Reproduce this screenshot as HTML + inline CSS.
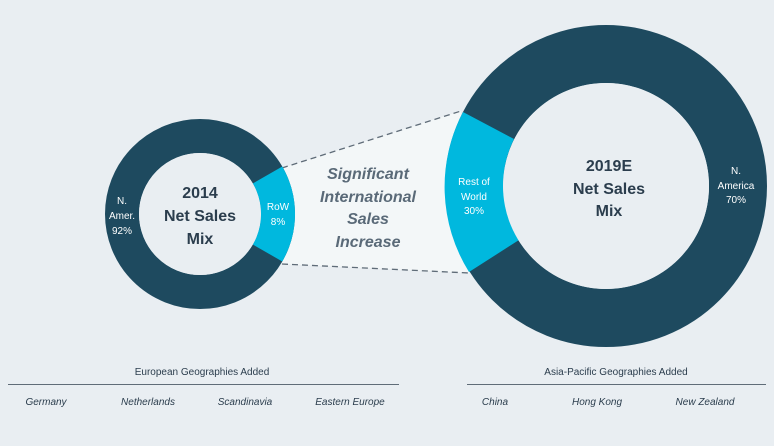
<!DOCTYPE html>
<html><head><meta charset="utf-8"><style>
body{margin:0;background:#e9eef2;}
svg{display:block;font-family:"Liberation Sans",sans-serif;}
</style></head><body>
<svg width="774" height="446" viewBox="0 0 774 446">
<rect width="774" height="446" fill="#e9eef2"/>
<polygon points="282,168 461,111 469,273 282,264" fill="#f3f7f8"/>
<line x1="282" y1="168" x2="461" y2="111" stroke="#5f6c78" stroke-width="1.3" stroke-dasharray="6,4"/>
<line x1="282" y1="264" x2="469" y2="273" stroke="#5f6c78" stroke-width="1.3" stroke-dasharray="6,4"/>
<!-- small donut -->
<circle cx="200" cy="214" r="78" fill="none" stroke="#1e4a5f" stroke-width="34"/>
<path d="M282.3,166.5 A95,95 0 0 1 282.3,261.5 L252.8,244.5 A61,61 0 0 0 252.8,183.5 Z" fill="#00b8de"/>
<circle cx="200" cy="214" r="61" fill="#e9eef2"/>
<!-- large donut -->
<circle cx="606" cy="186" r="132" fill="none" stroke="#1e4a5f" stroke-width="58"/>
<path d="M463,112 A161,161 0 0 0 469,272 L519,240 A103,103 0 0 1 514,139 Z" fill="#00b8de"/>
<circle cx="606" cy="186" r="103" fill="#e9eef2"/>
<g fill="#2b3d4d" font-weight="bold" font-size="16" text-anchor="middle">
<text x="200" y="198">2014</text><text x="200" y="221">Net Sales</text><text x="200" y="244">Mix</text>
<text x="609" y="171">2019E</text><text x="609" y="194">Net Sales</text><text x="609" y="216">Mix</text>
</g>
<g fill="#5a6a78" font-weight="bold" font-style="italic" font-size="16" text-anchor="middle">
<text x="368" y="179">Significant</text><text x="368" y="202">International</text><text x="368" y="224">Sales</text><text x="368" y="247">Increase</text>
</g>
<g fill="#fff" font-size="10" text-anchor="middle">
<text x="122" y="204">N.</text><text x="122" y="219">Amer.</text><text x="122" y="234">92%</text>
<text x="278" y="210">RoW</text><text x="278" y="225">8%</text>
<text x="474" y="185">Rest of</text><text x="474" y="200">World</text><text x="474" y="214">30%</text>
<text x="736" y="174">N.</text><text x="736" y="189">America</text><text x="736" y="203">70%</text>
</g>
<g fill="#2b3d4d" font-size="10" text-anchor="middle">
<text x="202" y="375">European  Geographies Added</text>
<text x="616" y="375">Asia-Pacific Geographies Added</text>
</g>
<line x1="8" y1="384.5" x2="399" y2="384.5" stroke="#5f6c78" stroke-width="1"/>
<line x1="467" y1="384.5" x2="766" y2="384.5" stroke="#5f6c78" stroke-width="1"/>
<g fill="#2b3d4d" font-size="10" font-style="italic" text-anchor="middle">
<text x="46" y="405">Germany</text><text x="148" y="405">Netherlands</text><text x="245" y="405">Scandinavia</text><text x="350" y="405">Eastern Europe</text>
<text x="495" y="405">China</text><text x="597" y="405">Hong Kong</text><text x="705" y="405">New Zealand</text>
</g>
</svg>
</body></html>
